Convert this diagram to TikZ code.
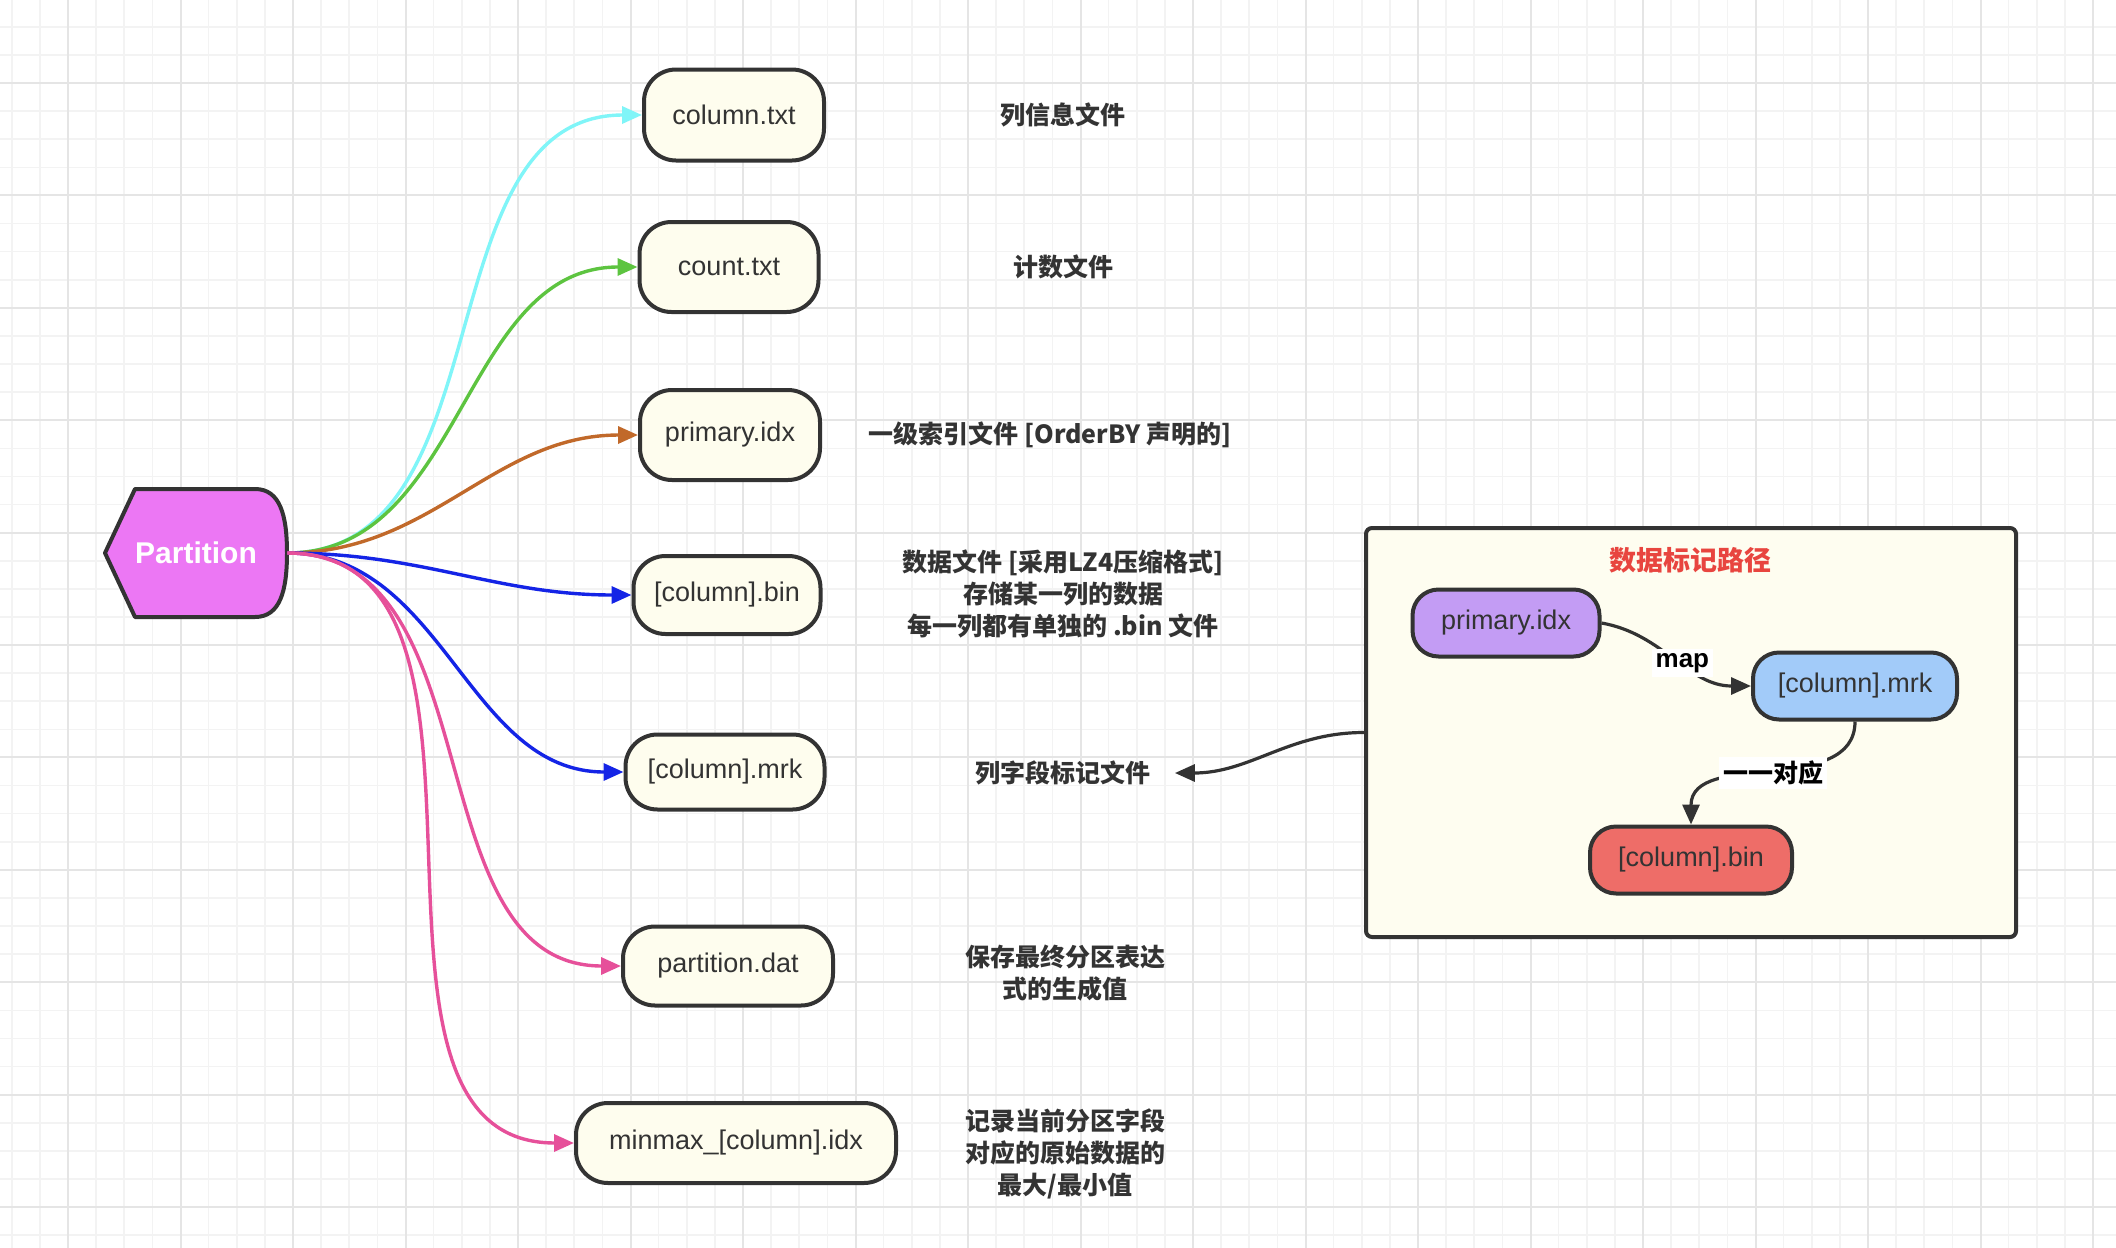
\documentclass[tikz,border=0pt]{standalone}
\usepackage{fontspec}
\setmainfont{Liberation Sans}
\setsansfont{Liberation Sans}
\newfontfamily\cjk{Noto Sans CJK SC}
\usetikzlibrary{arrows.meta}
\definecolor{dark}{HTML}{333333}
\definecolor{cream}{HTML}{FEFDEE}
\definecolor{boxcream}{HTML}{FEFDF0}
\definecolor{partfill}{HTML}{EC77F4}
\definecolor{cyanc}{HTML}{80F5F8}
\definecolor{greenc}{HTML}{5DC440}
\definecolor{brownc}{HTML}{C1692A}
\definecolor{bluec}{HTML}{1424E6}
\definecolor{pinkc}{HTML}{E6509A}
\definecolor{purplef}{HTML}{C39CF4}
\definecolor{bluef}{HTML}{A2CBF9}
\definecolor{redf}{HTML}{EE6D68}
\definecolor{titlered}{HTML}{E8453F}
\definecolor{minorg}{HTML}{F3F3F3}
\definecolor{majorg}{HTML}{E5E5E5}
\begin{document}
\begin{tikzpicture}[x=0.5pt,y=-0.5pt,
  minorgrid/.style={draw=minorg, line width=0.8pt},
  majorgrid/.style={draw=majorg, line width=1pt},
  filenode/.style={draw=dark, line width=2pt, fill=cream, rounded corners=16pt,
    inner sep=0pt, text=dark, font=\fontsize{13.5}{15}\selectfont},
  innernode/.style={draw=dark, line width=2pt, rounded corners=13pt,
    inner sep=0pt, text=dark, font=\fontsize{13.5}{15}\selectfont,
    minimum height=33.5pt},
  desc/.style={text=dark, align=center, inner sep=0pt,
    font=\cjk\bfseries\fontsize{12.5}{16}\selectfont},
  conn/.style={line width=1.7pt, -{Triangle[length=10pt,width=8.5pt]}},
  innerarrow/.style={draw=dark, line width=1.6pt, -{Triangle[length=10pt,width=8.5pt]}},
  lbl/.style={fill=white, text=black, inner sep=2pt, font=\bfseries\fontsize{13}{15}\selectfont},
  cjklbl/.style={fill=white, text=black, inner sep=2pt, font=\cjk\bfseries\fontsize{12.5}{15}\selectfont}
]
\useasboundingbox (0,0) rectangle (2116,1248);
\fill[white] (0,0) rectangle (2116,1248);
% grid
\foreach \k in {0,...,74} \draw[minorgrid] ({11.75+\k*28.125},0) -- ++(0,1248);
\foreach \k in {0,...,44} \draw[minorgrid] (0,{26.8+\k*28.1}) -- ++(2116,0);
\foreach \k in {0,...,18} \draw[majorgrid] ({68+\k*112.5},0) -- ++(0,1248);
\foreach \k in {0,...,10} \draw[majorgrid] (0,{83+\k*112.4}) -- ++(2116,0);

% Partition shape
\draw[draw=dark, line width=2pt, fill=partfill, line join=round]
  (105,553) -- (135,489) -- (255,489) .. controls (280,489) and (287,515) .. (287,553)
  .. controls (287,591) and (280,617) .. (255,617) -- (135,617) -- cycle;
\node[inner sep=0pt, minimum width=91pt, minimum height=64pt, text=white,
  font=\bfseries\fontsize{15}{18}\selectfont] (part) at (196,553) {Partition};

% file nodes
\node[filenode, minimum width=90pt, minimum height=45.5pt] (coltxt) at (734,115) {column.txt};
\node[filenode, minimum width=89.5pt, minimum height=45pt] (cnttxt) at (729,267) {count.txt};
\node[filenode, minimum width=90pt, minimum height=45pt] (pidx) at (730,435) {primary.idx};
\node[filenode, minimum width=93.5pt, minimum height=39pt] (cbin) at (727,595) {[column].bin};
\node[filenode, minimum width=99.5pt, minimum height=37.5pt] (cmrk) at (725,772) {[column].mrk};
\node[filenode, minimum width=105pt, minimum height=39.5pt] (pdat) at (728,966) {partition.dat};
\node[filenode, minimum width=160pt, minimum height=40pt] (mmidx) at (736,1143) {minmax\_[column].idx};

% descriptions
\node[desc] (d1) at (1063,115) {列信息文件};
\node[desc] (d2) at (1063,267) {计数文件};
\node[desc] (d3) at (1050,435) {一级索引文件 [OrderBY 声明的]};
\node[desc] (d4) at (1063,594) {数据文件 [采用LZ4压缩格式]\\存储某一列的数据\\每一列都有单独的 .bin 文件};
\node[desc] (d5) at (1063,773) {列字段标记文件};
\node[desc] (d6) at (1065,973) {保存最终分区表达\\式的生成值};
\node[desc] (d7) at (1065,1154) {记录当前分区字段\\对应的原始数据的\\最大/最小值};

% connectors
\draw[conn, cyanc] (part.east) to[out=0,in=180] (coltxt.west);
\draw[conn, greenc] (part.east) to[out=0,in=180] (cnttxt.west);
\draw[conn, brownc] (part.east) to[out=0,in=180] (pidx.west);
\draw[conn, bluec] (part.east) to[out=0,in=180] (cbin.west);
\draw[conn, bluec] (part.east) to[out=0,in=180] (cmrk.west);
\draw[conn, pinkc] (part.east) to[out=0,in=180] (pdat.west);
\draw[conn, pinkc] (part.east) to[out=0,in=180] (mmidx.west);

% right box
\node[draw=dark, line width=2pt, fill=boxcream, rounded corners=3pt,
  minimum width=325pt, minimum height=204.5pt, inner sep=0pt] (box) at (1691,732.5) {};
\node[text=titlered, inner sep=0pt, font=\cjk\bfseries\fontsize{13.5}{16}\selectfont] (title) at (1690,560) {数据标记路径};
\node[innernode, fill=purplef, minimum width=93.5pt] (ipidx) at (1506,623) {primary.idx};
\node[innernode, fill=bluef, minimum width=102pt] (imrk) at (1855,686) {[column].mrk};
\node[innernode, fill=redf, minimum width=101pt] (ibin) at (1691,860) {[column].bin};

\draw[innerarrow] (ipidx.east) to[out=-10,in=180] node[lbl, pos=0.55] {map} (imrk.west);
\draw[innerarrow] (imrk.south) to[out=-90,in=90] node[cjklbl, pos=0.5] {一一对应} (ibin.north);
\draw[innerarrow] (box.west) to[out=180,in=0] ([xshift=12pt]d5.east);
\end{tikzpicture}
\end{document}
